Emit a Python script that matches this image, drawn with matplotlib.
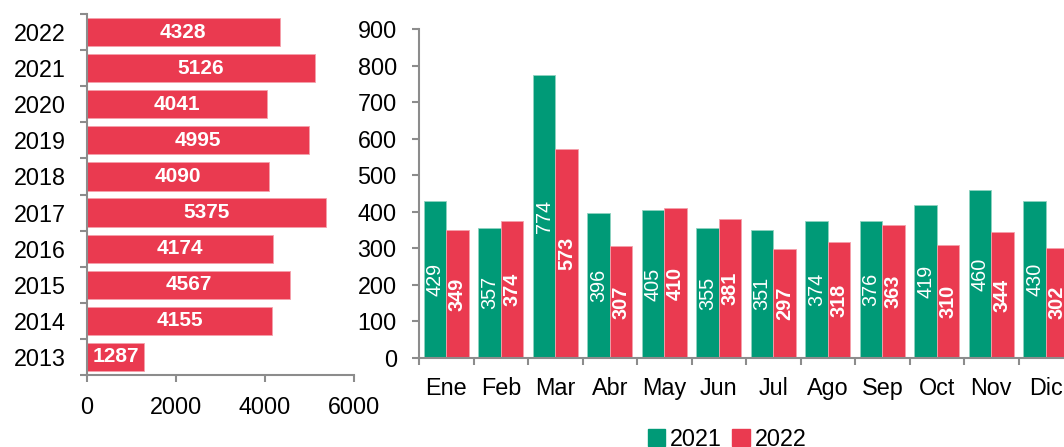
import numpy as np
import matplotlib
matplotlib.use("Agg")
import matplotlib.pyplot as plt
from matplotlib.patches import Patch

plt.rcParams['font.family'] = ['Liberation Sans', 'DejaVu Sans']

GREEN = "#009a77"
RED = "#ea3a50"
SPINE = "#8c8c8c"

# yearly totals (left panel)
years = ["2013", "2014", "2015", "2016", "2017", "2018", "2019", "2020", "2021", "2022"]
year_totals = [1287, 4155, 4567, 4174, 5375, 4090, 4995, 4041, 5126, 4328]

# monthly values (right panel)
months = ["Ene", "Feb", "Mar", "Abr", "May", "Jun", "Jul", "Ago", "Sep", "Oct", "Nov", "Dic"]
vals_2021 = [429, 357, 774, 396, 405, 355, 351, 374, 376, 419, 460, 430]
vals_2022 = [349, 374, 573, 307, 410, 381, 297, 318, 363, 310, 344, 302]

fig = plt.figure(figsize=(10.64, 4.47), dpi=100)


def style_spines(ax):
    for s in ("top", "right"):
        ax.spines[s].set_visible(False)
    for s in ("left", "bottom"):
        ax.spines[s].set_color(SPINE)
        ax.spines[s].set_linewidth(1.5)


# ---- left: horizontal bars per year
ax1 = fig.add_axes([0.0818, 0.161, 0.2509, 0.8077])
yy = np.arange(len(years))
ax1.barh(yy, year_totals, height=0.78, color=RED, edgecolor="#f5a0ab", linewidth=0.6)
for y, v in zip(yy, year_totals):
    ax1.text(v / 2, y, str(v), ha="center", va="center", color="white",
             fontsize=15, fontweight="bold")
ax1.set_xlim(0, 6000)
ax1.set_ylim(-0.5, len(years) - 0.5)
ax1.set_xticks([0, 2000, 4000, 6000])
ax1.set_yticks(yy)
ax1.set_yticklabels(years)
ax1.set_yticks(np.arange(-0.5, len(years)), minor=True)
ax1.tick_params(axis="y", which="major", length=0, pad=15.5, labelsize=16.8)
ax1.tick_params(axis="y", which="minor", length=5, width=1.5, color=SPINE)
ax1.tick_params(axis="x", length=5, width=1.5, color=SPINE, pad=10, labelsize=16.8)
style_spines(ax1)

# ---- right: grouped bars per month (axis runs past the right edge)
ax2 = fig.add_axes([0.3938, 0.1991, 0.6147, 0.736])
xx = np.arange(len(months))
w = 0.41
ax2.bar(xx - w / 2, vals_2021, width=w, color=GREEN, edgecolor="#8fd3c0", linewidth=0.6)
ax2.bar(xx + w / 2, vals_2022, width=w, color=RED, edgecolor="#f5a0ab", linewidth=0.6)
for x, a, b in zip(xx, vals_2021, vals_2022):
    ax2.text(x - w / 2, a / 2, str(a), ha="center", va="center", rotation=90,
             color="white", fontsize=14.3)
    ax2.text(x + w / 2, b / 2, str(b), ha="center", va="center", rotation=90,
             color="white", fontsize=14.3, fontweight="bold")
ax2.set_xlim(-0.5, len(months) - 0.5)
ax2.set_ylim(0, 900)
ax2.set_yticks(range(0, 901, 100))
ax2.set_xticks(xx)
ax2.set_xticklabels(months)
ax2.set_xticks(np.arange(-0.5, len(months)), minor=True)
ax2.tick_params(axis="x", which="major", length=0, pad=14, labelsize=16.8)
ax2.tick_params(axis="x", which="minor", length=5, width=1.5, color=SPINE)
ax2.tick_params(axis="y", length=5, width=1.5, color=SPINE, pad=11, labelsize=16.8)
style_spines(ax2)

handles = [Patch(color=GREEN, label="2021"), Patch(color=RED, label="2022")]
fig.legend(handles=handles, loc="lower left", bbox_to_anchor=(0.6, -0.03), ncol=2,
           frameon=False, fontsize=16.8, handlelength=0.75, handleheight=0.75,
           handletextpad=0.2, columnspacing=0.45, borderaxespad=0)

fig.savefig("out.png", dpi=100)
